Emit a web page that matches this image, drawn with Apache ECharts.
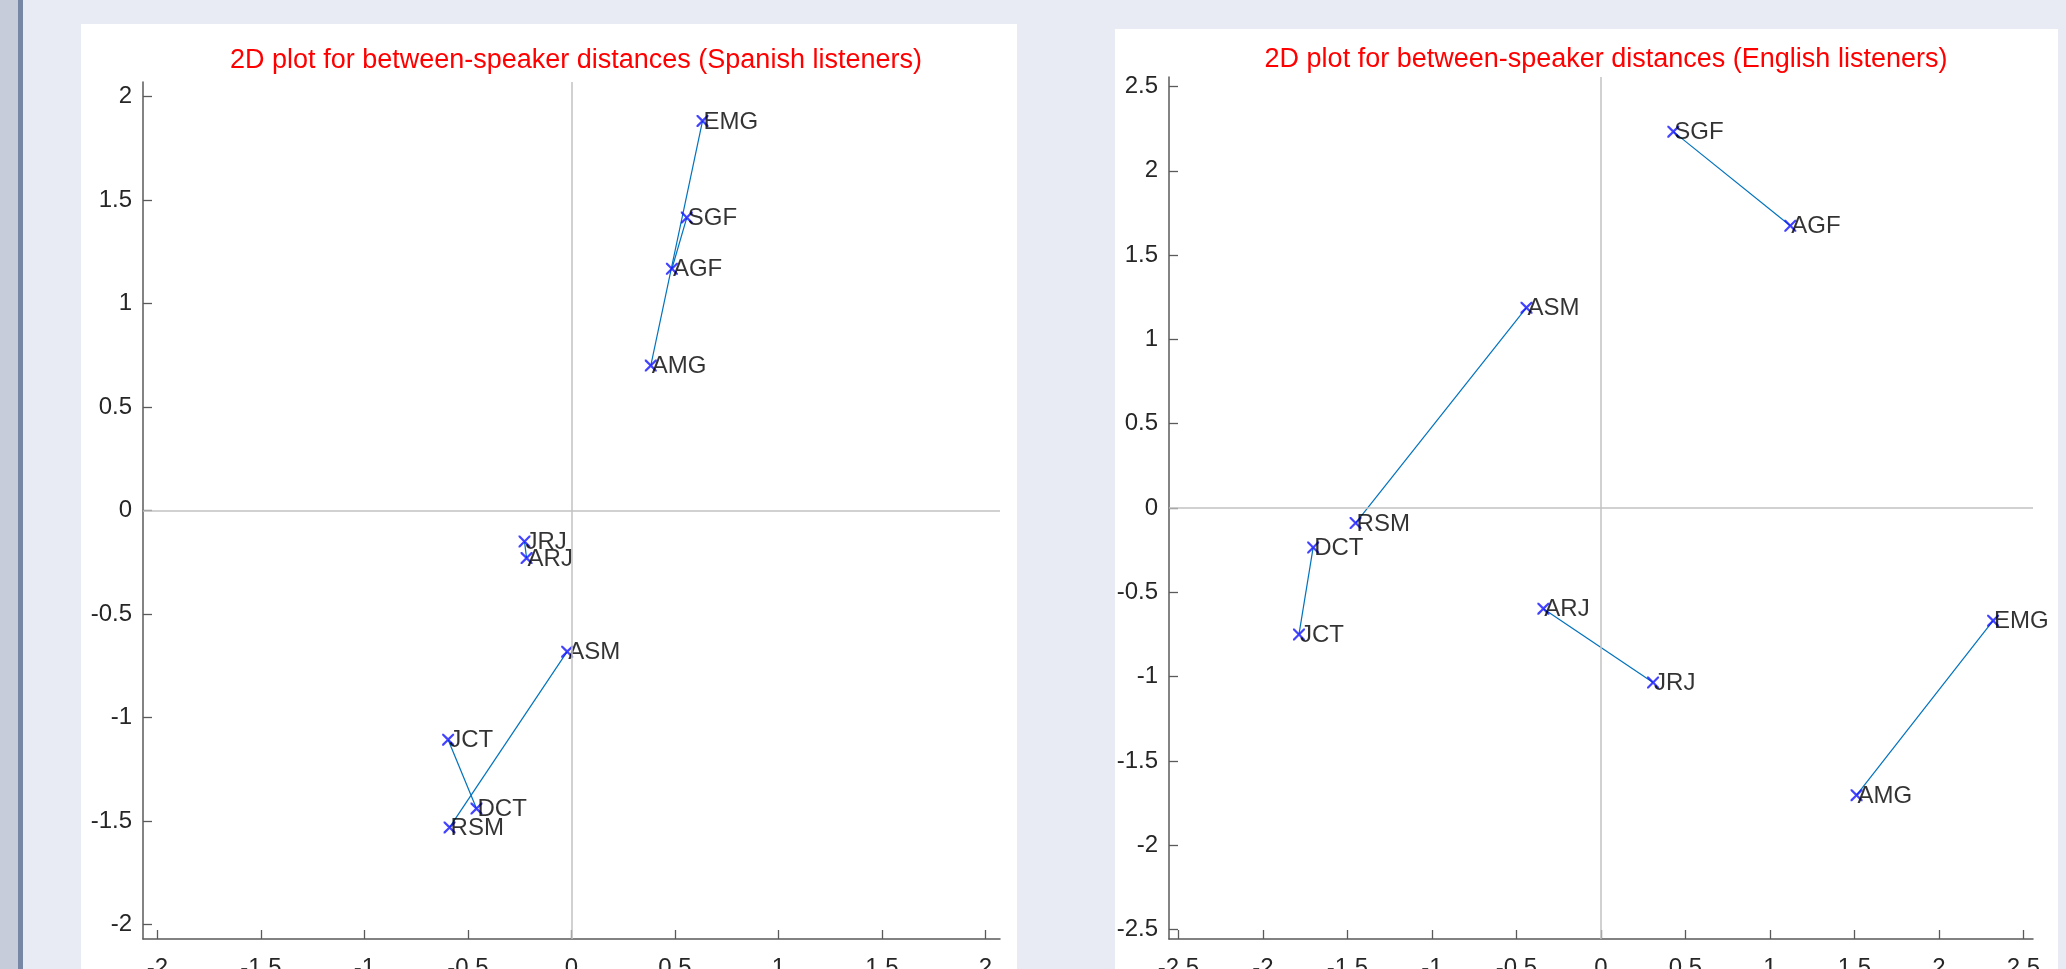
<!DOCTYPE html>
<html>
<head>
<meta charset="utf-8">
<script src="https://cdn.jsdelivr.net/npm/echarts@6.0.0/dist/echarts.min.js"></script>
<style>
  html, body { margin: 0; padding: 0; width: 2066px; height: 969px; overflow: hidden; background: #e8ebf4; }
  .strip1 { position: absolute; left: 0; top: 0; width: 18px; height: 969px; background: #c6ccda; }
  .strip2 { position: absolute; left: 18px; top: 0; width: 5px; height: 969px; background: #7886a6; }
  .panel { position: absolute; background: #ffffff; }
  #chart { position: absolute; left: 0; top: 0; width: 2066px; height: 969px; }
</style>
</head>
<body>
<div class="strip1"></div>
<div class="strip2"></div>
<div class="panel" style="left:81px;top:24px;width:936px;height:945px;"></div>
<div class="panel" style="left:1115px;top:29px;width:943px;height:940px;"></div>
<div id="chart"></div>
<script>
// ---- data ----
const speakers = ['EMG', 'SGF', 'AGF', 'AMG', 'JRJ', 'ARJ', 'ASM', 'JCT', 'DCT', 'RSM'];
const spanishX = [0.633, 0.557, 0.485, 0.383, -0.227, -0.217, -0.021, -0.596, -0.459, -0.589];
const spanishY = [1.882, 1.415, 1.168, 0.700, -0.150, -0.230, -0.682, -1.107, -1.440, -1.531];
const englishX = [2.320, 0.428, 1.120, 1.512, 0.308, -0.341, -0.441, -1.787, -1.703, -1.452];
const englishY = [-0.668, 2.232, 1.674, -1.703, -1.035, -0.597, 1.188, -0.750, -0.234, -0.089];
const pairs = [['EMG', 'AMG'], ['SGF', 'AGF'], ['JRJ', 'ARJ'], ['ASM', 'RSM'], ['JCT', 'DCT']];
const spanishTicks = [-2, -1.5, -1, -0.5, 0, 0.5, 1, 1.5, 2];
const englishTicks = [-2.5, -2, -1.5, -1, -0.5, 0, 0.5, 1, 1.5, 2, 2.5];
const titles = ['2D plot for between-speaker distances (Spanish listeners)',
                '2D plot for between-speaker distances (English listeners)'];

const FONT = '"Liberation Sans", Arial, Helvetica, sans-serif';
const AXIS_COLOR = '#5a5a5a';
const X_SYMBOL = 'path://M0,0L1.3,0L5,3.7L8.7,0L10,0L10,1.3L6.3,5L10,8.7L10,10L8.7,10L5,6.3L1.3,10L0,10L0,8.7L3.7,5L0,1.3Z';

function makeAxis(dim, idx, lim, ticks) {
  return {
    type: 'value',
    gridIndex: idx,
    min: -lim,
    max: lim,
    position: dim === 'x' ? 'bottom' : 'left',
    splitLine: { show: false },
    axisLine: { show: true, onZero: false, lineStyle: { color: AXIS_COLOR, width: 1.5 } },
    axisTick: { show: true, inside: true, length: 9, customValues: ticks, lineStyle: { color: AXIS_COLOR, width: 1.3 } },
    axisLabel: {
      show: true,
      customValues: ticks,
      color: '#262626',
      fontSize: 24,
      fontFamily: FONT,
      margin: dim === 'x' ? 17 : 11,
      formatter: v => String(v)
    }
  };
}

function buildSeries(idx, xs, ys) {
  const series = [];
  pairs.forEach((p, k) => {
    const a = speakers.indexOf(p[0]);
    const b = speakers.indexOf(p[1]);
    const s = {
      type: 'line',
      xAxisIndex: idx,
      yAxisIndex: idx,
      data: [[xs[a], ys[a]], [xs[b], ys[b]]],
      symbol: 'none',
      lineStyle: { color: '#0072bd', width: 1.2 },
      silent: true,
      z: 2
    };
    if (k === 0) {
      s.markLine = {
        silent: true,
        symbol: 'none',
        label: { show: false },
        lineStyle: { color: '#c2c2c2', type: 'solid', width: 1.5 },
        data: [{ xAxis: 0 }, { yAxis: 0 }]
      };
    }
    series.push(s);
  });
  series.push({
    type: 'scatter',
    xAxisIndex: idx,
    yAxisIndex: idx,
    z: 3,
    symbol: X_SYMBOL,
    symbolSize: 12,
    itemStyle: { color: '#1414ff' },
    data: speakers.map((n, i) => ({ name: n, value: [xs[i], ys[i]] })),
    label: {
      show: true,
      formatter: p => p.name,
      position: [6, 6],
      offset: [1, 1],
      align: 'left',
      verticalAlign: 'middle',
      color: '#000000',
      fontSize: 24,
      fontFamily: FONT
    }
  });
  return series;
}

const chart = echarts.init(document.getElementById('chart'), null, { renderer: 'canvas' });
chart.setOption({
  animation: false,
  backgroundColor: 'transparent',
  title: [
    { text: titles[0], left: 571, top: 42, textAlign: 'center',
      textStyle: { color: '#ff0000', fontSize: 27, fontWeight: 'normal', fontFamily: FONT } },
    { text: titles[1], left: 1601, top: 41, textAlign: 'center',
      textStyle: { color: '#ff0000', fontSize: 27, fontWeight: 'normal', fontFamily: FONT } }
  ],
  grid: [
    { left: 143, top: 82, width: 857, height: 857, containLabel: false, outerBoundsMode: 'none' },
    { left: 1169, top: 77, width: 864, height: 862, containLabel: false, outerBoundsMode: 'none' }
  ],
  xAxis: [makeAxis('x', 0, 2.07, spanishTicks), makeAxis('x', 1, 2.556, englishTicks)],
  yAxis: [makeAxis('y', 0, 2.07, spanishTicks), makeAxis('y', 1, 2.556, englishTicks)],
  series: buildSeries(0, spanishX, spanishY).concat(buildSeries(1, englishX, englishY))
});
</script>
</body>
</html>
